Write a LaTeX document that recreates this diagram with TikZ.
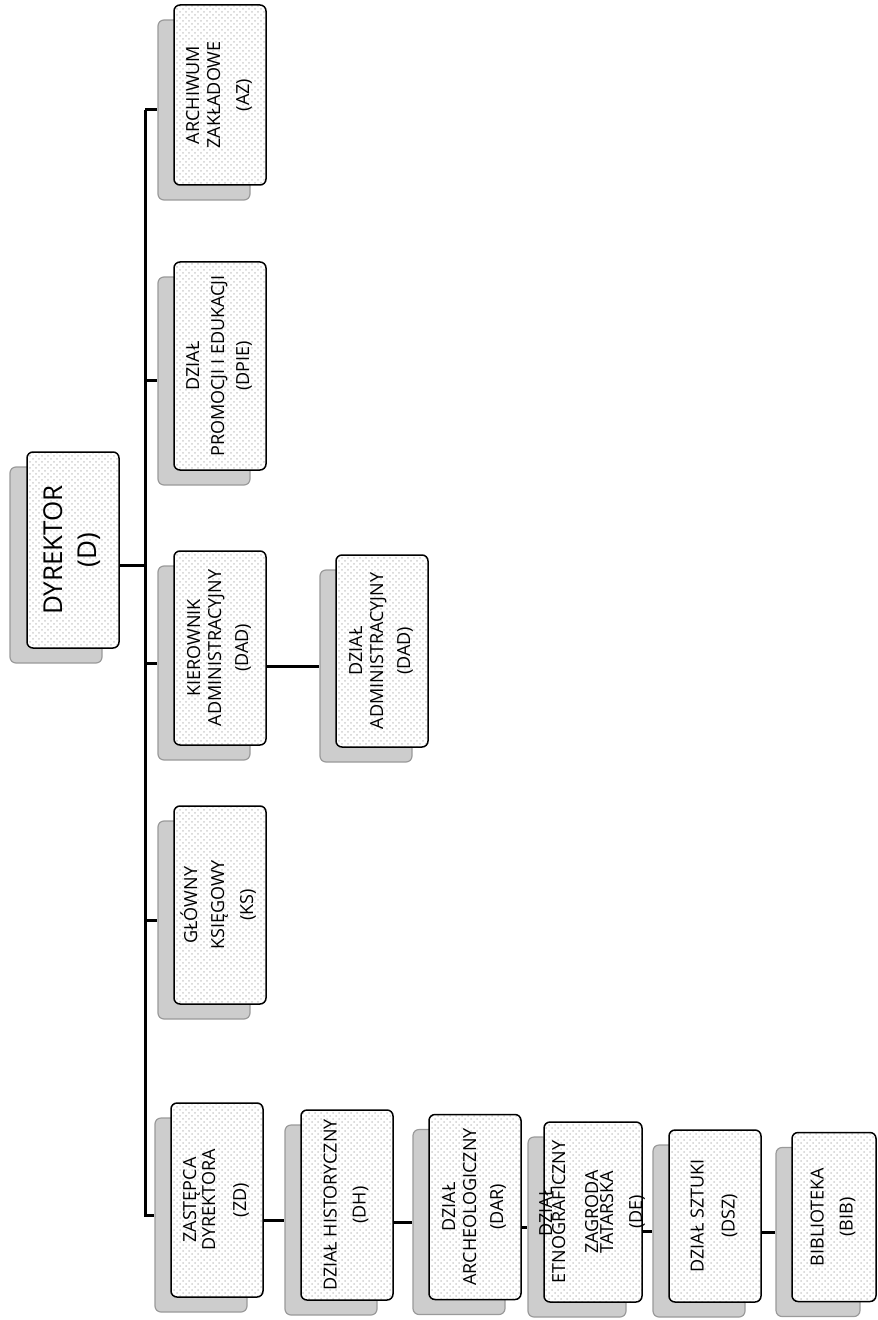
\documentclass[tikz,border=0pt]{standalone}
\usepackage{fontspec}
\setmainfont{Open Sans}
\usepackage{graphicx}
\usetikzlibrary{calc, patterns}
\definecolor{cardback}{HTML}{CDCDCD}
\definecolor{cardedge}{HTML}{9A9A9A}
\definecolor{carddots}{HTML}{D0D0D0}
\tikzset{
  backcard/.style={draw=cardedge, fill=cardback, line width=0.6pt, rounded corners=3pt,
                   minimum width=46pt, inner sep=0pt},
  unitcard/.style={draw=black, line width=0.75pt, rounded corners=3pt, minimum width=46pt,
                   inner sep=0pt, preaction={fill=white}, pattern=crosshatch dots,
                   pattern color=carddots, font=\fontsize{9}{10.5}\selectfont},
  link/.style={line width=1.5pt, draw=black},
}
\newcommand{\vtext}[1]{\rotatebox{90}{\begin{tabular}{@{}c@{}}#1\end{tabular}}}

\begin{document}
\begin{tikzpicture}[x=0.5pt, y=-0.5pt]
  \useasboundingbox (0,0) rectangle (877,1320);
  \coordinate (sp) at (145,0);

  % Director
  \node[backcard, minimum height=98pt] (d) at (56,565) {};
  \node[unitcard, minimum height=98pt, font=\fontsize{13}{15}\selectfont] (d-f)
    at ($(d)+(17,-15)$) {\vtext{DYREKTOR\\[2pt](D)}};

  % Units reporting to the director
  \node[backcard, minimum height=90pt] (az) at (204,110) {};
  \node[unitcard, minimum height=90pt] (az-f) at ($(az)+(16,-15)$)
    {\vtext{ARCHIWUM\\ZAKŁADOWE\\[4pt](AZ)}};
  \node[backcard, minimum height=104pt] (dpie) at (204,381) {};
  \node[unitcard, minimum height=104pt] (dpie-f) at ($(dpie)+(16,-15)$)
    {\vtext{DZIAŁ\\[2pt]PROMOCJI I EDUKACJI\\[2pt](DPIE)}};
  \node[backcard, minimum height=97pt] (ka) at (204,663) {};
  \node[unitcard, minimum height=97pt] (ka-f) at ($(ka)+(16,-15)$)
    {\vtext{KIEROWNIK\\ADMINISTRACYJNY\\[3pt](DAD)}};
  \node[backcard, minimum height=96pt] (da) at (366,666) {};
  \node[unitcard, minimum height=96pt] (da-f) at ($(da)+(16,-15)$)
    {\vtext{DZIAŁ\\ADMINISTRACYJNY\\[3pt](DAD)}};
  \node[backcard, minimum height=99pt] (ks) at (204,920) {};
  \node[unitcard, minimum height=99pt] (ks-f) at ($(ks)+(16,-15)$)
    {\vtext{GŁÓWNY\\[3pt]KSIĘGOWY\\[4pt](KS)}};

  % Deputy director and the departments
  \node[backcard, minimum height=97pt] (zd) at (201,1215) {};
  \node[unitcard, minimum height=97pt] (zd-f) at ($(zd)+(16,-15)$)
    {\vtext{ZASTĘPCA\\[-1pt]DYREKTORA\\[5pt](ZD)}};
  \node[backcard, minimum height=95pt] (dh) at (331,1220) {};
  \node[unitcard, minimum height=95pt] (dh-f) at ($(dh)+(16,-15)$)
    {\vtext{DZIAŁ HISTORYCZNY\\[4pt](DH)}};
  \node[backcard, minimum height=92.5pt] (dar) at (459,1222) {};
  \node[unitcard, minimum height=92.5pt] (dar-f) at ($(dar)+(16,-15)$)
    {\vtext{DZIAŁ\\ARCHEOLOGICZNY\\[3pt](DAR)}};
  \node[backcard, minimum height=90pt, minimum width=49pt] (de) at (577,1227) {};
  \node[unitcard, minimum height=90pt, minimum width=49pt] (de-f) at ($(de)+(16,-15)$)
    {\makebox[44pt]{\vtext{DZIAŁ\\[-4pt]ETNOGRAFICZNY\\[6pt]ZAGRODA\\[-3pt]TATARSKA\\[4pt](DE)}}};
  \node[backcard, minimum height=86pt] (dsz) at (699,1231) {};
  \node[unitcard, minimum height=86pt] (dsz-f) at ($(dsz)+(16,-15)$)
    {\vtext{DZIAŁ SZTUKI\\[5pt](DSZ)}};
  \node[backcard, minimum height=84.5pt, minimum width=42pt] (bib) at (818,1232) {};
  \node[unitcard, minimum height=84.5pt, minimum width=42pt] (bib-f) at ($(bib)+(16,-15)$)
    {\vtext{BIBLIOTEKA\\[4pt](BIB)}};

  % Connectors
  \draw[link] (d-f.east |- d) -- (d -| sp);
  \draw[link] (az -| sp) |- (zd);
  \draw[link] (az -| sp) -- (az);
  \draw[link] (dpie -| sp) -- (dpie);
  \draw[link] (ka -| sp) -- (ka);
  \draw[link] (ks -| sp) -- (ks);
  \draw[link] (ka-f.east |- da) -- (da);
  \draw[link] (zd-f.east |- dh) -- (dh);
  \draw[link] (dh-f.east |- dar) -- (dar);
  \draw[link] (dar-f.east |- de) -- (de);
  \draw[link] (de-f.east |- dsz) -- (dsz);
  \draw[link] (dsz-f.east |- bib) -- (bib);
\end{tikzpicture}
\end{document}
